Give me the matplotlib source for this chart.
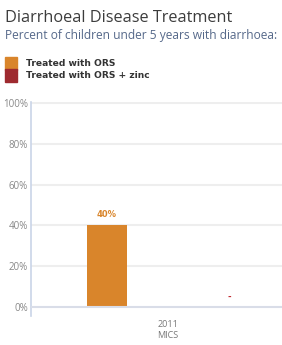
import matplotlib
matplotlib.use("Agg")
import matplotlib.pyplot as plt
from matplotlib.patches import Rectangle

plt.rcParams['font.family'] = ['Open Sans', 'DejaVu Sans']

categories = ["2011\nMICS"]
series_names = ["Treated with ORS", "Treated with ORS + zinc"]
ors_values = [40]
zinc_values = [None]
colors = ["#d9852b", "#9e2a2f"]
y_ticks = [0, 20, 40, 60, 80, 100]
y_tick_labels = ["0%", "20%", "40%", "60%", "80%", "100%"]

W, H = 282, 345
fig = plt.figure(figsize=(W / 100, H / 100), dpi=100)

def fx(px):
    return px / W

def fy(py):
    return 1 - py / H

fig.text(fx(5), fy(18), "Diarrhoeal Disease Treatment", fontsize=11.7, color="#3c3c3c",
         va="center", ha="left")
fig.text(fx(5), fy(36), "Percent of children under 5 years with diarrhoea:", fontsize=8.65,
         color="#56698a", va="center", ha="left")

# legend
for i, (name, c) in enumerate(zip(series_names, colors)):
    top = 57 + i * 12.5
    fig.patches.append(Rectangle((fx(5), fy(top + 12.5)), fx(12), 12.5 / H, color=c,
                                 transform=fig.transFigure, figure=fig))
    fig.text(fx(26), fy(top + 6.5), name, fontsize=6.6, fontweight="bold", color="#333333",
             va="center", ha="left", family="DejaVu Sans")

# axes: left at 31px, right at 282px; y 0 at 307px, 100 at 103px
y0_px, y100_px = 307, 103
ppu = (y0_px - y100_px) / 100.0
ax_bottom_px = 316
ymin = -(ax_bottom_px - y0_px) / ppu
ax_top_px = 102
ymax = 100 + (y100_px - ax_top_px) / ppu
ax = fig.add_axes([fx(31), fy(ax_bottom_px), fx(282 - 31), (ax_bottom_px - ax_top_px) / H])

k = 123.0
center_px = 168
ax.set_xlim(-(center_px - 31) / k, (282 - center_px) / k)
ax.set_ylim(ymin, ymax)

bar_w = 40 / k
x_pos = list(range(len(categories)))
for i, cx in enumerate(x_pos):
    v = ors_values[i]
    if v is not None:
        ax.bar(cx - 0.5, v, width=bar_w, color=colors[0], zorder=3)
        ax.text(cx - 0.5, v + 3, f"{v}%", ha="center", va="bottom", fontsize=6,
                fontweight="bold", color=colors[0], family="DejaVu Sans")
    v2 = zinc_values[i]
    if v2 is not None:
        ax.bar(cx + 0.5, v2, width=bar_w, color=colors[1], zorder=3)
    else:
        ax.text(cx + 0.5, 2.5, "-", ha="center", va="bottom", fontsize=6,
                fontweight="bold", color="#c0272d", family="DejaVu Sans")

for t in y_ticks[1:]:
    ax.axhline(t, color="#eeeeee", lw=1.5, zorder=1)
ax.axhline(0, color="#d9dde8", lw=1.5, zorder=4)

ax.set_yticks(y_ticks)
ax.set_yticklabels(y_tick_labels, fontsize=7, color="#888888")
ax.tick_params(axis="y", length=0, pad=2)
ax.set_xticks(x_pos)
ax.set_xticklabels(categories, fontsize=6.5, color="#777777", linespacing=1.3)
ax.tick_params(axis="x", length=0, pad=3)

for s in ["top", "right", "bottom"]:
    ax.spines[s].set_visible(False)
ax.spines["left"].set_color("#c9d4e8")
ax.spines["left"].set_linewidth(1.2)

fig.savefig("out.png", dpi=100)
